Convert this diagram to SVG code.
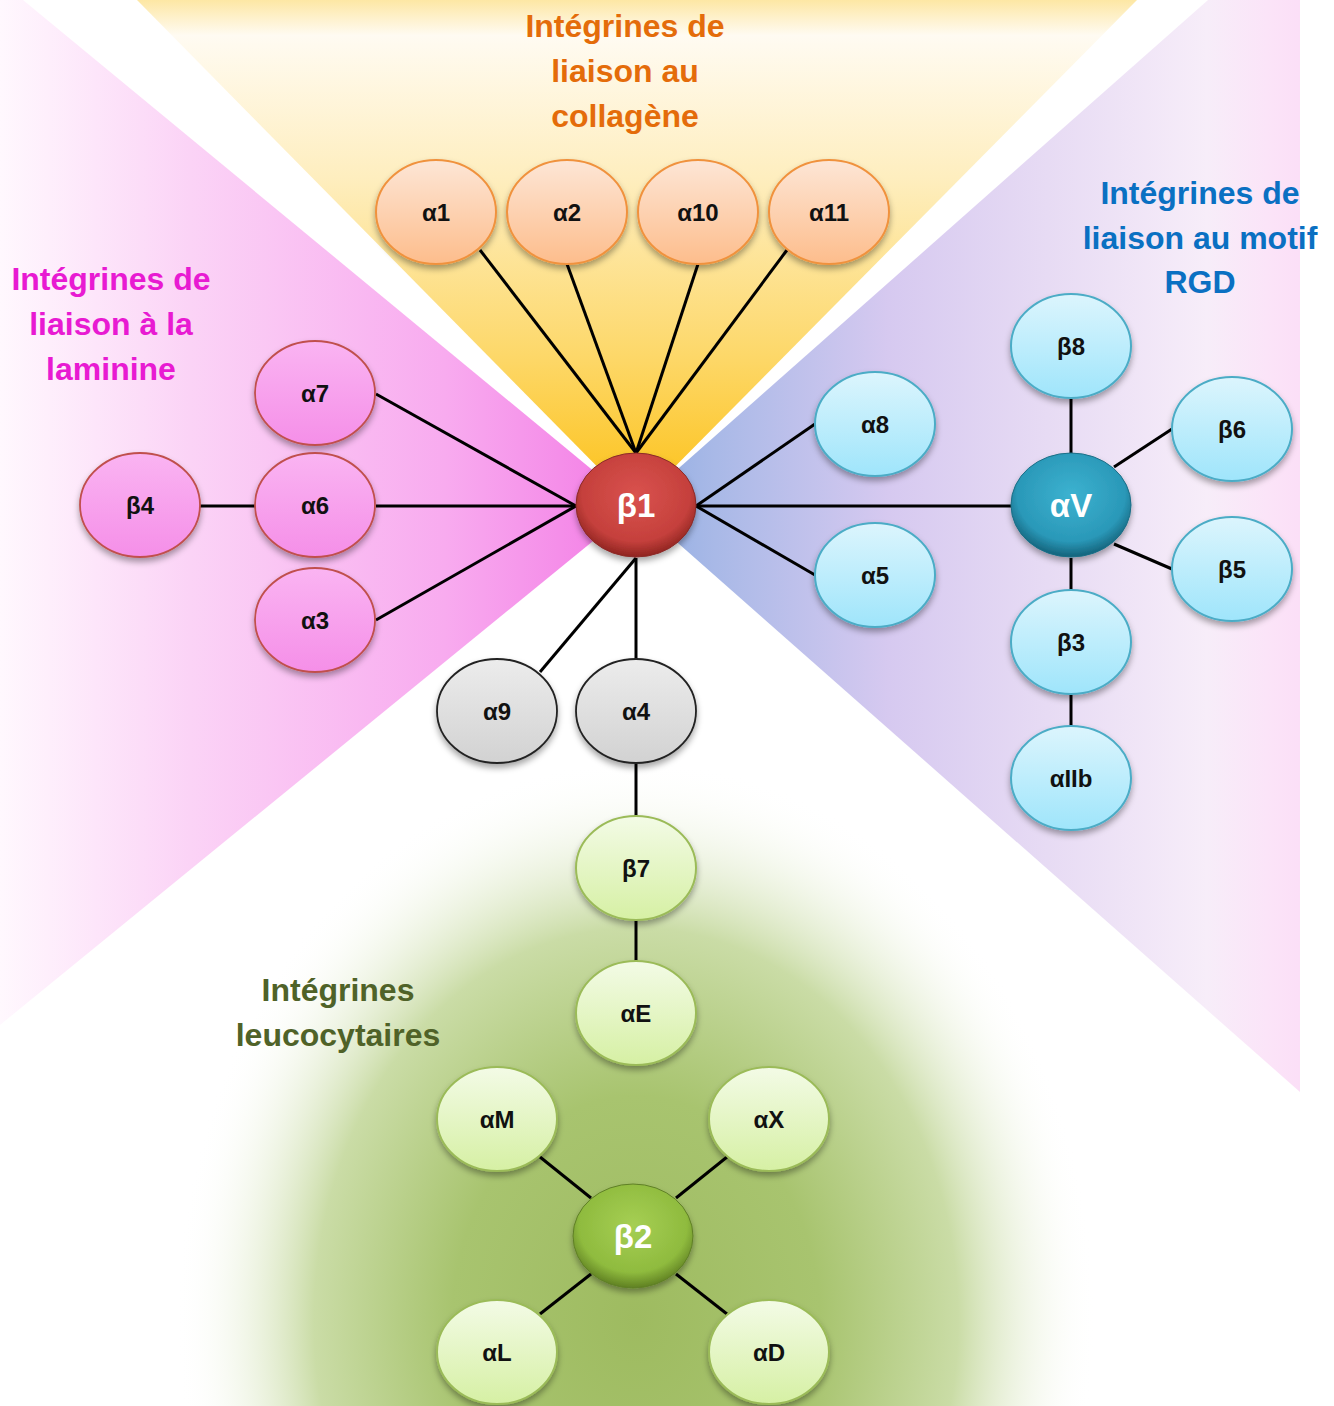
<svg xmlns="http://www.w3.org/2000/svg" width="1334" height="1406" viewBox="0 0 1334 1406">
<defs>
<linearGradient id="gYel" x1="0" y1="0" x2="0" y2="506" gradientUnits="userSpaceOnUse">
<stop offset="0" stop-color="#fde7a4"/><stop offset="0.07" stop-color="#fffbf2"/><stop offset="0.35" stop-color="#feeebf"/><stop offset="0.7" stop-color="#fdd86a"/><stop offset="1" stop-color="#fcc014"/>
</linearGradient>
<linearGradient id="gPink" x1="0" y1="0" x2="636" y2="0" gradientUnits="userSpaceOnUse">
<stop offset="0" stop-color="#fff8fe"/><stop offset="0.3" stop-color="#fbd3f6"/><stop offset="0.7" stop-color="#f8abef"/><stop offset="1" stop-color="#f37be5"/>
</linearGradient>
<linearGradient id="gPur" x1="636" y1="0" x2="1300" y2="0" gradientUnits="userSpaceOnUse">
<stop offset="0" stop-color="#90ade2"/><stop offset="0.12" stop-color="#a9b9e7"/><stop offset="0.38" stop-color="#d6c9f0"/><stop offset="0.62" stop-color="#e7dbf4"/><stop offset="0.86" stop-color="#f7edf9"/><stop offset="0.95" stop-color="#fbe4f8"/><stop offset="1" stop-color="#fbdff7"/>
</linearGradient>
<radialGradient id="gGreen" cx="0.5" cy="0.5" r="0.5">
<stop offset="0" stop-color="#9ebb60"/><stop offset="0.4" stop-color="#a8c46f"/><stop offset="0.7" stop-color="#cadca6"/><stop offset="1" stop-color="#ffffff" stop-opacity="0"/>
</radialGradient>
<linearGradient id="nOr" x1="0" y1="0" x2="0" y2="1"><stop offset="0" stop-color="#fde6d6"/><stop offset="1" stop-color="#fdbd8c"/></linearGradient>
<linearGradient id="nPk" x1="0" y1="0" x2="0" y2="1"><stop offset="0" stop-color="#fab4f2"/><stop offset="1" stop-color="#f58fe8"/></linearGradient>
<linearGradient id="nCy" x1="0" y1="0" x2="0" y2="1"><stop offset="0" stop-color="#dcf5fd"/><stop offset="1" stop-color="#9fe5fb"/></linearGradient>
<linearGradient id="nGy" x1="0" y1="0" x2="0" y2="1"><stop offset="0" stop-color="#ececec"/><stop offset="1" stop-color="#d2d2d2"/></linearGradient>
<linearGradient id="nGr" x1="0" y1="0" x2="0" y2="1"><stop offset="0" stop-color="#f3fbe6"/><stop offset="1" stop-color="#d6f0a4"/></linearGradient>
<radialGradient id="nRed" cx="0.5" cy="0.4" r="0.6"><stop offset="0" stop-color="#d9524e"/><stop offset="0.75" stop-color="#c5403c"/><stop offset="1" stop-color="#8f2420"/></radialGradient>
<radialGradient id="nTeal" cx="0.5" cy="0.4" r="0.6"><stop offset="0" stop-color="#3cb2d0"/><stop offset="0.75" stop-color="#2a98b8"/><stop offset="1" stop-color="#14627a"/></radialGradient>
<radialGradient id="nLime" cx="0.5" cy="0.4" r="0.6"><stop offset="0" stop-color="#a6cf54"/><stop offset="0.75" stop-color="#8fbb3e"/><stop offset="1" stop-color="#5f8022"/></radialGradient>
<filter id="sh" x="-20%" y="-20%" width="140%" height="150%"><feDropShadow dx="0" dy="4" stdDeviation="3" flood-color="#000" flood-opacity="0.35"/></filter>
</defs>
<style>
.lbl{font-family:"Liberation Sans",Arial,sans-serif;font-weight:bold;font-size:24px;fill:#111;text-anchor:middle;dominant-baseline:central}
.big{font-family:"Liberation Sans",Arial,sans-serif;font-weight:bold;font-size:33px;fill:#fff;text-anchor:middle;dominant-baseline:central}
.ttl{font-family:"Liberation Sans",Arial,sans-serif;font-weight:bold;font-size:32px;text-anchor:middle}
.or{fill:url(#nOr);stroke:#f0923e;stroke-width:2;filter:url(#sh)}
.pk{fill:url(#nPk);stroke:#c0504d;stroke-width:1.8;filter:url(#sh)}
.cy{fill:url(#nCy);stroke:#4bacc6;stroke-width:2;filter:url(#sh)}
.gy{fill:url(#nGy);stroke:#222;stroke-width:1.8;filter:url(#sh)}
.gr{fill:url(#nGr);stroke:#9bbb59;stroke-width:2;filter:url(#sh)}
.edge{stroke:#000;stroke-width:3;fill:none}
</style>
<rect width="1334" height="1406" fill="#fff"/>
<g id="background">
<ellipse cx="636" cy="1320" rx="460" ry="560" fill="url(#gGreen)"/>
<polygon points="636,506 23,0 0,0 0,1025" fill="url(#gPink)"/>
<polygon points="137,0 1137,0 636,506" fill="url(#gYel)"/>
<polygon points="636,506 1208,0 1300,0 1300,1092" fill="url(#gPur)"/>
</g>
<g id="titles">
<g class="ttl" fill="#e46c0a"><text x="625" y="37">Intégrines de</text><text x="625" y="82">liaison au</text><text x="625" y="127">collagène</text></g>
<g class="ttl" fill="#e81ad2"><text x="111" y="290">Intégrines de</text><text x="111" y="335">liaison à la</text><text x="111" y="380">laminine</text></g>
<g class="ttl" fill="#0a70c2"><text x="1200" y="204">Intégrines de</text><text x="1200" y="249">liaison au motif</text><text x="1200" y="293">RGD</text></g>
<g class="ttl" fill="#4f6228"><text x="338" y="1001">Intégrines</text><text x="338" y="1046">leucocytaires</text></g>
</g>
<g id="connectors" class="edge">
<line x1="480" y1="250" x2="636" y2="453"/>
<line x1="567" y1="264" x2="636" y2="453"/>
<line x1="698" y1="264" x2="636" y2="453"/>
<line x1="787" y1="250" x2="636" y2="453"/>
<line x1="376" y1="394" x2="576" y2="506"/>
<line x1="376" y1="506" x2="576" y2="506"/>
<line x1="376" y1="620" x2="576" y2="506"/>
<line x1="200" y1="506" x2="255" y2="506"/>
<line x1="815" y1="424" x2="696" y2="506"/>
<line x1="815" y1="575" x2="696" y2="506"/>
<line x1="696" y1="506" x2="1011" y2="506"/>
<line x1="1071" y1="399" x2="1071" y2="454"/>
<line x1="1172" y1="429" x2="1114" y2="467"/>
<line x1="1172" y1="569" x2="1114" y2="544"/>
<line x1="1071" y1="558" x2="1071" y2="590"/>
<line x1="1071" y1="695" x2="1071" y2="726"/>
<line x1="636" y1="558" x2="540" y2="672"/>
<line x1="636" y1="558" x2="636" y2="659"/>
<line x1="636" y1="764" x2="636" y2="816"/>
<line x1="636" y1="920" x2="636" y2="961"/>
<line x1="540" y1="1157" x2="591" y2="1198"/>
<line x1="727" y1="1157" x2="676" y2="1198"/>
<line x1="540" y1="1314" x2="591" y2="1274"/>
<line x1="727" y1="1314" x2="676" y2="1274"/>
</g>
<g id="n-a1"><ellipse class="or" cx="436" cy="212" rx="60" ry="52"/><text class="lbl" x="436" y="212">α1</text></g>
<g id="n-a2"><ellipse class="or" cx="567" cy="212" rx="60" ry="52"/><text class="lbl" x="567" y="212">α2</text></g>
<g id="n-a10"><ellipse class="or" cx="698" cy="212" rx="60" ry="52"/><text class="lbl" x="698" y="212">α10</text></g>
<g id="n-a11"><ellipse class="or" cx="829" cy="212" rx="60" ry="52"/><text class="lbl" x="829" y="212">α11</text></g>
<g id="n-a7"><ellipse class="pk" cx="315" cy="393" rx="60" ry="52"/><text class="lbl" x="315" y="393">α7</text></g>
<g id="n-a6"><ellipse class="pk" cx="315" cy="505" rx="60" ry="52"/><text class="lbl" x="315" y="505">α6</text></g>
<g id="n-a3"><ellipse class="pk" cx="315" cy="620" rx="60" ry="52"/><text class="lbl" x="315" y="620">α3</text></g>
<g id="n-b4"><ellipse class="pk" cx="140" cy="505" rx="60" ry="52"/><text class="lbl" x="140" y="505">β4</text></g>
<g id="n-b1"><ellipse cx="636" cy="505" rx="60" ry="52" fill="url(#nRed)" stroke="#8a2a27" stroke-width="1" filter="url(#sh)"/><text class="big" x="636" y="505">β1</text></g>
<g id="n-a8"><ellipse class="cy" cx="875" cy="424" rx="60" ry="52"/><text class="lbl" x="875" y="424">α8</text></g>
<g id="n-a5"><ellipse class="cy" cx="875" cy="575" rx="60" ry="52"/><text class="lbl" x="875" y="575">α5</text></g>
<g id="n-aV"><ellipse cx="1071" cy="505" rx="60" ry="52" fill="url(#nTeal)" stroke="#1a6e86" stroke-width="1" filter="url(#sh)"/><text class="big" x="1071" y="505">αV</text></g>
<g id="n-b8"><ellipse class="cy" cx="1071" cy="346" rx="60" ry="52"/><text class="lbl" x="1071" y="346">β8</text></g>
<g id="n-b6"><ellipse class="cy" cx="1232" cy="429" rx="60" ry="52"/><text class="lbl" x="1232" y="429">β6</text></g>
<g id="n-b5"><ellipse class="cy" cx="1232" cy="569" rx="60" ry="52"/><text class="lbl" x="1232" y="569">β5</text></g>
<g id="n-b3"><ellipse class="cy" cx="1071" cy="642" rx="60" ry="52"/><text class="lbl" x="1071" y="642">β3</text></g>
<g id="n-aIIb"><ellipse class="cy" cx="1071" cy="778" rx="60" ry="52"/><text class="lbl" x="1071" y="778">αIIb</text></g>
<g id="n-a9"><ellipse class="gy" cx="497" cy="711" rx="60" ry="52"/><text class="lbl" x="497" y="711">α9</text></g>
<g id="n-a4"><ellipse class="gy" cx="636" cy="711" rx="60" ry="52"/><text class="lbl" x="636" y="711">α4</text></g>
<g id="n-b7"><ellipse class="gr" cx="636" cy="868" rx="60" ry="52"/><text class="lbl" x="636" y="868">β7</text></g>
<g id="n-aE"><ellipse class="gr" cx="636" cy="1013" rx="60" ry="52"/><text class="lbl" x="636" y="1013">αE</text></g>
<g id="n-aM"><ellipse class="gr" cx="497" cy="1119" rx="60" ry="52"/><text class="lbl" x="497" y="1119">αM</text></g>
<g id="n-aX"><ellipse class="gr" cx="769" cy="1119" rx="60" ry="52"/><text class="lbl" x="769" y="1119">αX</text></g>
<g id="n-b2"><ellipse cx="633" cy="1236" rx="60" ry="52" fill="url(#nLime)" stroke="#5f7f26" stroke-width="1" filter="url(#sh)"/><text class="big" x="633" y="1236">β2</text></g>
<g id="n-aL"><ellipse class="gr" cx="497" cy="1352" rx="60" ry="52"/><text class="lbl" x="497" y="1352">αL</text></g>
<g id="n-aD"><ellipse class="gr" cx="769" cy="1352" rx="60" ry="52"/><text class="lbl" x="769" y="1352">αD</text></g>
</svg>
